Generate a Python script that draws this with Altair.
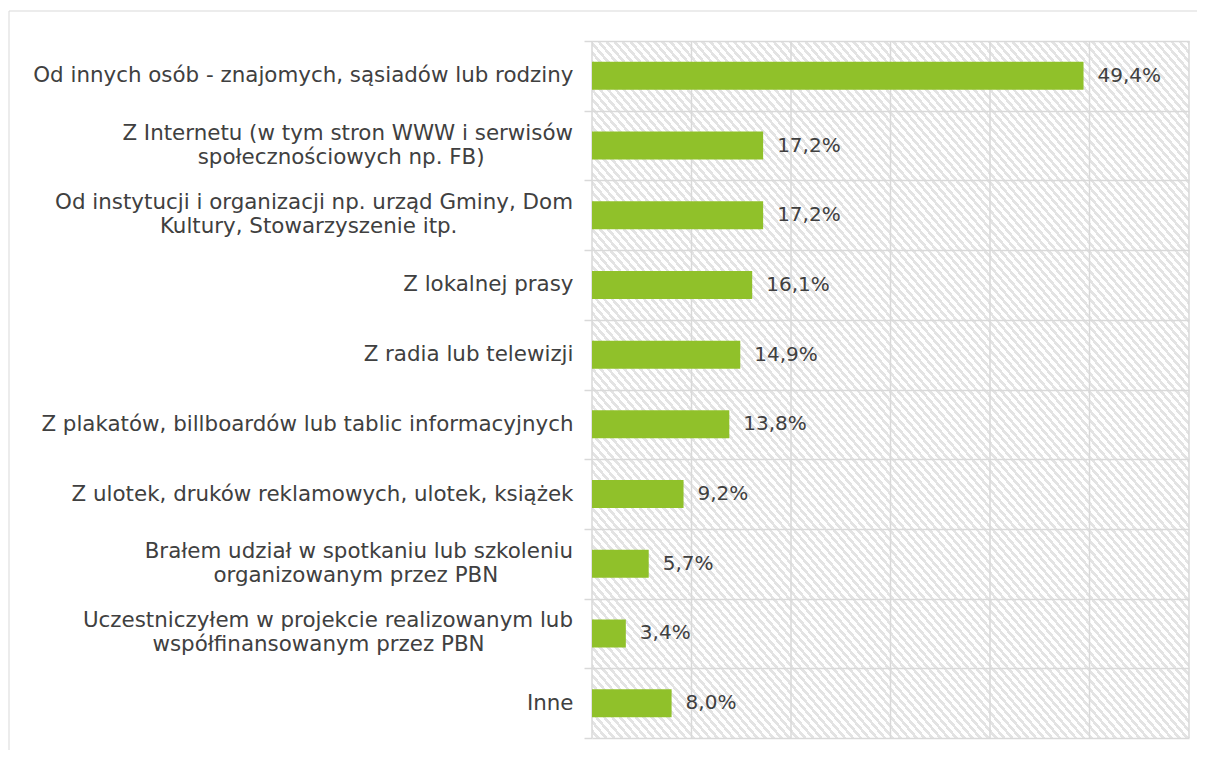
import altair as alt
import pandas as pd

NB = "\u00a0"
ZW = "\u200b"

categories = [
    "Od innych osób - znajomych, sąsiadów lub rodziny",
    "Z Internetu (w tym stron WWW i serwisów|społecznościowych np. FB)" + NB * 13 + ZW,
    "Od instytucji i organizacji np. urząd Gminy, Dom|Kultury, Stowarzyszenie itp." + NB * 17 + ZW,
    "Z lokalnej prasy",
    "Z radia lub telewizji",
    "Z plakatów, billboardów lub tablic informacyjnych",
    "Z ulotek, druków reklamowych, ulotek, książek",
    "Brałem udział w spotkaniu lub szkoleniu|organizowanym przez PBN" + NB * 11 + ZW,
    "Uczestniczyłem w projekcie realizowanym lub|współfinansowanym przez PBN" + NB * 13 + ZW,
    "Inne",
]
values = [49.4, 17.2, 17.2, 16.1, 14.9, 13.8, 9.2, 5.7, 3.4, 8.0]
grid_ticks = [0, 10, 20, 30, 40, 50, 60]

W, H = 597, 697
FONT = "DejaVu Sans"
TXT = "#404040"
GRID = "#d9d9d9"

df = pd.DataFrame({"cat": categories, "val": values})
gdf = pd.DataFrame({"t": grid_ticks})

xscale = alt.Scale(domain=[0, 60], nice=False, zero=True)
yscale = alt.Scale(domain=categories, paddingInner=0, paddingOuter=0)

# hatch-like stripes
N = 150
stops = []
for i in range(N):
    a = i / N
    b = (i + 0.55) / N
    c = (i + 1) / N
    stops += [
        alt.GradientStop(color="#ffffff", offset=a),
        alt.GradientStop(color="#ffffff", offset=b),
        alt.GradientStop(color="#e3e3e3", offset=b),
        alt.GradientStop(color="#e3e3e3", offset=c),
    ]
hatch = alt.LinearGradient(gradient="linear", stops=stops, x1=0, y1=1, x2=1, y2=0)

frame = alt.Chart(alt.Data(values=[{"k": 1}])).mark_rect(
    fillOpacity=0, stroke=GRID, strokeWidth=1
).encode(
    x=alt.value(-583), x2=alt.value(W + 100), y=alt.value(-30), y2=alt.value(H + 100)
)

bg = alt.Chart(alt.Data(values=[{"k": 1}])).mark_rect(fill=hatch).encode(
    x=alt.value(0), x2=alt.value(W), y=alt.value(0), y2=alt.value(H)
)

vgrid = alt.Chart(gdf).mark_rule(color=GRID, strokeWidth=1.5).encode(
    x=alt.X("t:Q", scale=xscale, axis=None)
)

yaxis = alt.Axis(
    title=None,
    labelExpr="indexof(datum.label, '|') >= 0 ? '' : datum.label",
    tickBand="extent",
    grid=True,
    gridColor=GRID,
    gridWidth=1.5,
    tickColor=GRID,
    tickWidth=1.5,
    tickSize=8,
    domain=False,
    labelPadding=11,
    labelFontSize=21.4,
    labelFont=FONT,
    labelColor=TXT,
    labelLimit=0,
    zindex=1,
)

bars = alt.Chart(df).mark_bar(color="#90C12A", size=28).encode(
    x=alt.X("val:Q", scale=xscale, axis=None),
    y=alt.Y("cat:N", sort=categories, scale=yscale, axis=yaxis),
)

labels = alt.Chart(df).transform_calculate(
    lbl="replace(format(datum.val, '.1f'), '.', ',') + '%'"
).mark_text(
    align="left", baseline="middle", dx=14, fontSize=20, font=FONT, color=TXT
).encode(
    x=alt.X("val:Q", scale=xscale, axis=None),
    y=alt.Y("cat:N", sort=categories, scale=yscale, axis=yaxis),
    text="lbl:N",
)

multi = alt.Chart(df).transform_filter(
    "indexof(datum.cat, '|') >= 0"
).transform_calculate(
    lines="split(datum.cat, '|')"
).mark_text(
    align="right", baseline="middle", dy=-12, fontSize=21.4, font=FONT,
    color=TXT, lineHeight=24
).encode(
    x=alt.value(-19),
    y=alt.Y("cat:N", sort=categories, scale=yscale, axis=yaxis),
    text="lines:N",
)

chart = alt.layer(frame, bg, vgrid, bars, labels, multi).properties(
    width=W,
    height=H,
    padding={"left": 584, "top": 33, "right": 8, "bottom": 12},
    autosize=alt.AutoSizeParams(type="none"),
    background="white",
).configure_view(strokeWidth=0)

chart.save("out.html", embed_options={"renderer": "svg", "actions": False})
